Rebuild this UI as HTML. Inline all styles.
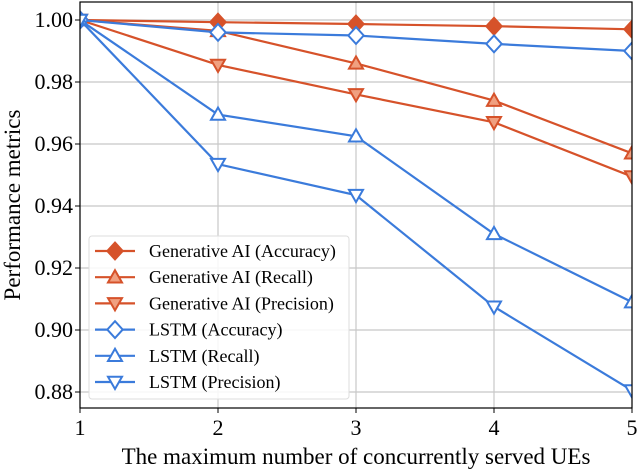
<!DOCTYPE html>
<html><head><meta charset="utf-8"><style>
body{margin:0;background:#fff}
svg text{font-family:"Liberation Serif","Times New Roman",serif;fill:#000}
</style></head><body>
<svg id="c" width="638" height="470" xmlns="http://www.w3.org/2000/svg"></svg>
<script>
const xCats=[1,2,3,4,5];
const yTicks=[0.88,0.90,0.92,0.94,0.96,0.98,1.00];
const genAcc=[1,0.9993,0.9987,0.998,0.997];
const genRec=[1,0.9965,0.986,0.974,0.957];
const genPre=[1,0.9855,0.976,0.967,0.9495];
const lstmAcc=[1,0.996,0.995,0.9923,0.990];
const lstmRec=[1,0.9695,0.9625,0.931,0.909];
const lstmPre=[1,0.9535,0.9435,0.9075,0.8805];
const names=["Generative AI (Accuracy)","Generative AI (Recall)","Generative AI (Precision)","LSTM (Accuracy)","LSTM (Recall)","LSTM (Precision)"];

const L=80,R=632,T=2,B=408;
const X=v=>L+(v-1)*(R-L)/4;
const Y=v=>20+(1-v)/0.02*62;
const svg=document.getElementById('c');
const NS="http://www.w3.org/2000/svg";
function el(t,a,p){const e=document.createElementNS(NS,t);for(const k in a)e.setAttribute(k,a[k]);(p||svg).appendChild(e);return e;}
const OR="#d6522a",BL="#3b7bdb";
xCats.forEach(v=>{const g=el('line',{x1:X(v),x2:X(v),y1:T,y2:B,stroke:'#c8c8c8','stroke-width':1.2});


const t=el('text',{x:X(v),y:B+27,'text-anchor':'middle','font-size':22});t.textContent=v;


el('line',{x1:X(v),x2:X(v),y1:B,y2:B+5,stroke:'#000','stroke-width':1});});
yTicks.forEach(v=>{const g=el('line',{x1:L,x2:R,y1:Y(v),y2:Y(v),stroke:'#c8c8c8','stroke-width':1.2});


const t=el('text',{x:L-7,y:Y(v)+7,'text-anchor':'end','font-size':22});t.textContent=v.toFixed(2);


el('line',{x1:L-5,x2:L,y1:Y(v),y2:Y(v),stroke:'#000','stroke-width':1});});
function marker(type,x,y,col,fill,g){
 const s=7;let d;
 if(type=='d')d=`M${x},${y-s*1.2}L${x+s*1.1},${y}L${x},${y+s*1.2}L${x-s*1.1},${y}Z`;
 else if(type=='u')d=`M${x},${y-s}L${x+s},${y+s*0.75}L${x-s},${y+s*0.75}Z`;
 else d=`M${x},${y+s}L${x+s},${y-s*0.75}L${x-s},${y-s*0.75}Z`;
 return el('path',{d:d,fill:fill,stroke:col,'stroke-width':2},g);
}
const series=[[genAcc,OR,'d',OR],[genRec,OR,'u','#f0a080'],[genPre,OR,'v','#f0a080'],[lstmAcc,BL,'d','#fff'],[lstmRec,BL,'u','#fff'],[lstmPre,BL,'v','#fff']];
const clip=el('clipPath',{id:'cp'});el('rect',{x:L,y:T,width:R-L,height:B-T},clip);
series.forEach((s,i)=>{
 const g=el('g',{'clip-path':'url(#cp)'});
 
 
 el('polyline',{points:s[0].map((v,j)=>X(xCats[j])+','+Y(v)).join(' '),fill:'none',stroke:s[1],'stroke-width':2.2},g);
 s[0].forEach((v,j)=>{const m=marker(s[2],X(xCats[j]),Y(v),s[1],s[3],g);
 
 });
});
const fr=el('rect',{x:L,y:T,width:R-L,height:B-T,fill:'none',stroke:'#000','stroke-width':1.2});


const lg=el('g',{});


el('rect',{x:89,y:236,width:260,height:163,rx:3,fill:'#fff','fill-opacity':0.85,stroke:'#ddd','stroke-width':1},lg);
series.forEach((s,i)=>{
 const y=251+i*26.2;
 const e=el('g',{},lg);
 
 
 el('line',{x1:95,x2:135,y1:y,y2:y,stroke:s[1],'stroke-width':2.2},e);
 marker(s[2],115,y,s[1],s[3],e);
 const t=el('text',{x:149,y:y+6,'font-size':18},e);t.textContent=names[i];
});
const xl=el('text',{x:356,y:464,'text-anchor':'middle','font-size':23});xl.textContent="The maximum number of concurrently served UEs";


const yl=el('text',{x:0,y:0,'text-anchor':'middle','font-size':23,transform:`translate(20,205) rotate(-90)`});yl.textContent="Performance metrics";


</script>
</body></html>
